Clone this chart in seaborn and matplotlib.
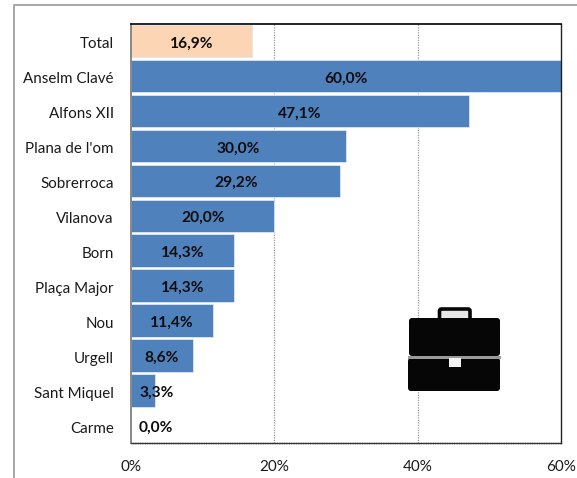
import matplotlib
matplotlib.use('Agg')
import matplotlib.pyplot as plt
from matplotlib.lines import Line2D
from matplotlib.patches import FancyBboxPatch, Rectangle
from matplotlib.transforms import ScaledTranslation
import pandas as pd
import seaborn as sb

barris = ['Total', 'Anselm Clavé', 'Alfons XII', "Plana de l'om", 'Sobrerroca', 'Vilanova',
          'Born', 'Plaça Major', 'Nou', 'Urgell', 'Sant Miquel', 'Carme']
valors = [16.9, 60.0, 47.1, 30.0, 29.2, 20.0, 14.3, 14.3, 11.4, 8.6, 3.3, 0.0]
colors = ['#FCD5B5'] + ['#4F81BD'] * 11
xticks = [0, 20, 40, 60]

W, H = 577, 478

sb.set_style('white')
plt.rcParams['font.family'] = ['Lato', 'DejaVu Sans']

df = pd.DataFrame({'barri': barris, 'valor': valors})

fig = plt.figure(figsize=(W / 100, H / 100), dpi=100)
ax = fig.add_axes([131.2 / W, 1 - 443 / H, (561 - 131.2) / W, (443 - 23.5) / H])

sb.barplot(data=df, x='valor', y='barri', hue='barri', palette=colors, legend=False,
           orient='h', width=0.93, saturation=1, edgecolor='#DCE6F1', linewidth=0.6,
           ax=ax, zorder=2)

ax.set_xlim(0, 60)
ax.set_ylim(11.5, -0.5)
ax.set_xlabel('')
ax.set_ylabel('')
ax.set_xticks(xticks)
ax.set_xticklabels([f'{t}%' for t in xticks], fontsize=11, color='#1a1a1a')
ax.tick_params(axis='x', length=0, pad=12.5)
ax.tick_params(axis='y', length=0, pad=12.5, labelsize=10.9, labelcolor='#1a1a1a')

# labels sit a bit lower than the bar centre
down = ScaledTranslation(0, -1.5 / 100, fig.dpi_scale_trans)
for lab in ax.get_yticklabels():
    lab.set_transform(lab.get_transform() + down)

# gridlines
ax.grid(False)
for t in xticks[1:-1]:
    ax.axvline(t, color='#9a9a9a', lw=0.9, ls=(0, (1, 1)), zorder=1)

# axes frame
ax.spines['top'].set_color('black')
ax.spines['top'].set_linewidth(1.2)
ax.spines['right'].set_color('#222222')
ax.spines['right'].set_linewidth(1.0)
ax.spines['left'].set_color('#808080')
ax.spines['left'].set_linewidth(1.3)
ax.spines['bottom'].set_color('#333333')
ax.spines['bottom'].set_linewidth(1.0)
ax.spines['bottom'].set_linestyle((0, (1.2, 0.5)))

# value labels, small bars get pushed out from the axis
for i, v in enumerate(valors):
    ax.text(max(v / 2, 3.5), i + 0.07, f'{v:.1f}%'.replace('.', ','), ha='center', va='center',
            fontsize=11.2, fontweight='bold', color='#0d0d0d', zorder=5)

# outer chart border
fig.add_artist(Line2D([13.5 / W, 13.5 / W, 1], [0, 1 - 5 / H, 1 - 5 / H], color='#A6A6A6', lw=1.4))

# briefcase icon, in pixel coordinates
icon = fig.add_axes([0, 0, 1, 1], facecolor='none')
icon.set_xlim(0, W)
icon.set_ylim(H, 0)
icon.axis('off')
black = '#060606'
icon.add_patch(FancyBboxPatch((439.5, 309), 30.5, 12, boxstyle='round,pad=0,rounding_size=2',
                              fc='#e8e8e8', ec=black, lw=2.6))
icon.add_patch(FancyBboxPatch((409, 318), 91, 38, boxstyle='round,pad=0,rounding_size=3',
                              fc=black, ec='none'))
icon.add_patch(FancyBboxPatch((408, 358), 92, 33, boxstyle='round,pad=0,rounding_size=3',
                              fc=black, ec='none'))
icon.add_patch(Rectangle((408, 356), 93, 2.5, fc='#9a9a9a', ec='none'))
icon.add_patch(Rectangle((449, 358), 12, 9, fc='#f2f2f2', ec='none'))

fig.savefig('out.png', dpi=100)
